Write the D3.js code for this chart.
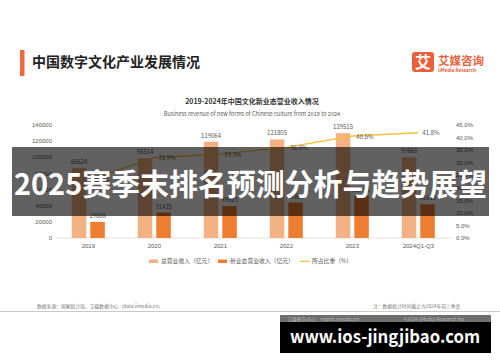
<!DOCTYPE html>
<html>
<head>
<meta charset="utf-8">
<script src="https://cdn.jsdelivr.net/npm/d3@7"></script>
<style>
	body { margin: 0; background: #fff; }
	svg { display: block; font-family: "Noto Sans CJK SC", "Noto Sans", sans-serif; }
</style>
</head>
<body>
<svg id="chart" width="500" height="362"></svg>
<script>
// values
var years = ['2019', '2020', '2021', '2022', '2023', '2024Q1-Q3'];
var totalRevenue = [86624, 98514, 119064, 121805, 129515, 99668];
var newRevenue = [19868, 31425, 39623, 43860, 52395, 41610];
var newShare = [22.9, 31.9, 33.3, 36.0, 40.5, 41.8];
var leftTicks = [0, 20000, 40000, 60000, 80000, 100000, 120000, 140000];
var rightTicks = [0, 5, 10, 15, 20, 25, 30, 35, 40, 45];
var legendNames = ['总营业收入（亿元）', '新业态营业收入（亿元）', '所占比重（%）'];

var colTotal = '#F4B183', colNew = '#ED7D31', colLine = '#F5C13C';
var textGrey = '#595959';

var svg = d3.select('#chart');

// page header
svg.append('rect').attr('x', 20).attr('y', 50).attr('width', 4.5).attr('height', 26).attr('fill', '#EE6A3C');
svg.append('text').attr('x', 32).attr('y', 66.5)
	.attr('font-size', 14).attr('font-weight', 700).attr('fill', '#222')
	.text('中国数字文化产业发展情况');

// logo
svg.append('rect').attr('x', 412).attr('y', 52).attr('width', 22).attr('height', 20).attr('rx', 3)
	.attr('fill', '#E9603A');
svg.append('text').attr('x', 423).attr('y', 67.5).attr('text-anchor', 'middle')
	.attr('font-size', 16).attr('font-weight', 700).attr('fill', '#fff').text('艾');
svg.append('text').attr('x', 438).attr('y', 65)
	.attr('font-size', 11.5).attr('font-weight', 700).attr('fill', '#E9603A').text('艾媒咨询');
svg.append('text').attr('x', 438).attr('y', 71.5)
	.attr('font-size', 4.6).attr('font-weight', 700).attr('fill', '#E9603A').text('iiMedia Research');

// chart titles
svg.append('text').attr('x', 252).attr('y', 104).attr('text-anchor', 'middle')
	.attr('font-size', 7).attr('font-weight', 700).attr('fill', '#333')
	.text('2019-2024年中国文化新业态营业收入情况');
svg.append('text').attr('x', 252).attr('y', 116).attr('text-anchor', 'middle')
	.attr('font-size', 5.6).attr('fill', textGrey)
	.text('Business revenue of new forms of Chinese culture from 2019 to 2024');

// scales
var x = d3.scaleBand().domain(years).range([55.3, 451.3]);
var yL = d3.scaleLinear().domain([0, 140000]).range([238, 124.7]);
var yR = d3.scaleLinear().domain([0, 45]).range([238, 124.7]);
var cx = d => x(d) + x.bandwidth() / 2;

var leftAxis = svg.append('g').attr('transform', 'translate(52,0)')
	.call(d3.axisLeft(yL).tickValues(leftTicks).tickSize(0).tickPadding(0).tickFormat(d3.format('d')));
var rightAxis = svg.append('g').attr('transform', 'translate(456,0)')
	.call(d3.axisRight(yR).tickValues(rightTicks).tickSize(0).tickPadding(0).tickFormat(d => d.toFixed(1) + '%'));
var bottomAxis = svg.append('g').attr('transform', 'translate(0,238)')
	.call(d3.axisBottom(x).tickSize(0).tickPadding(6));
[leftAxis, rightAxis, bottomAxis].forEach(function(g){
	g.select('.domain').remove();
	g.selectAll('text').attr('font-size', 6).attr('fill', textGrey).attr('font-family', null);
});
svg.append('line').attr('x1', 55.3).attr('x2', 451.3).attr('y1', 238).attr('y2', 238)
	.attr('stroke', '#D9D9D9').attr('stroke-width', 0.8);

// bars
var barW = 14.5, gap = 2;
var rows = years.map((d, i) => ({year: d, total: totalRevenue[i], nw: newRevenue[i], share: newShare[i]}));
svg.selectAll('rect.total').data(rows).enter().append('rect')
	.attr('class', 'total')
	.attr('x', d => cx(d.year) - gap - barW).attr('width', barW)
	.attr('y', d => yL(d.total)).attr('height', d => yL(0) - yL(d.total))
	.attr('fill', colTotal);
svg.selectAll('rect.new').data(rows).enter().append('rect')
	.attr('class', 'new')
	.attr('x', d => cx(d.year) + gap).attr('width', barW)
	.attr('y', d => yL(d.nw)).attr('height', d => yL(0) - yL(d.nw))
	.attr('fill', colNew);
svg.selectAll('text.totalLbl').data(rows).enter().append('text')
	.attr('x', d => cx(d.year) - gap - barW / 2).attr('y', d => yL(d.total) - 4)
	.attr('text-anchor', 'middle').attr('font-size', 6).attr('fill', textGrey)
	.text(d => d.total);
svg.selectAll('text.newLbl').data(rows).enter().append('text')
	.attr('x', d => cx(d.year) + gap + barW / 2).attr('y', d => yL(d.nw) - 4)
	.attr('text-anchor', 'middle').attr('font-size', 6).attr('fill', textGrey)
	.text(d => d.nw);

// share line
var line = d3.line().x(d => cx(d.year)).y(d => yR(d.share));
svg.append('path').datum(rows).attr('d', line)
	.attr('fill', 'none').attr('stroke', colLine).attr('stroke-width', 1.4);
svg.selectAll('text.shareLbl').data(rows).enter().append('text')
	.attr('x', d => cx(d.year) + 4).attr('y', d => yR(d.share) + 2.5)
	.attr('font-size', 6).attr('fill', textGrey)
	.text(d => d.share.toFixed(1) + '%');

// legend
var legend = svg.append('g').attr('font-size', 5.8).attr('fill', textGrey);
var lx = [149, 218, 300];
legend.append('rect').attr('x', lx[0]).attr('y', 259.5).attr('width', 9).attr('height', 3.5).attr('fill', colTotal);
legend.append('rect').attr('x', lx[1]).attr('y', 259.5).attr('width', 9).attr('height', 3.5).attr('fill', colNew);
legend.append('line').attr('x1', lx[2]).attr('x2', lx[2] + 10).attr('y1', 261.3).attr('y2', 261.3)
	.attr('stroke', colLine).attr('stroke-width', 1.2);
legendNames.forEach(function(name, i){
	legend.append('text').attr('x', lx[i] + 12).attr('y', 263.3).text(name);
});

// footer
svg.append('text').attr('x', 37).attr('y', 307.5).attr('font-size', 4.8).attr('fill', '#777')
	.text('数据来源：国家统计局、艾媒数据中心（data.iimedia.cn）');
svg.append('text').attr('x', 373).attr('y', 307.5).attr('font-size', 4.8).attr('fill', '#777')
	.text('注：数据统计时间截止为2024年前三季度');
svg.append('line').attr('x1', 0).attr('x2', 500).attr('y1', 311.5).attr('y2', 311.5)
	.attr('stroke', '#BBB').attr('stroke-width', 0.8);
svg.append('rect').attr('x', 280).attr('y', 315).attr('width', 211).attr('height', 7).attr('fill', '#6E6E6E');
svg.append('text').attr('x', 287).attr('y', 320.5).attr('font-size', 4.8).attr('fill', '#BBB')
	.text('艾媒报告中心：report.iimedia.cn');
svg.append('text').attr('x', 403).attr('y', 320.5).attr('font-size', 4.8).attr('fill', '#BBB')
	.text('©2024 iiMedia Research Inc');

// overlay banner
svg.append('rect').attr('x', 12).attr('y', 147).attr('width', 477).attr('height', 69)
	.attr('fill', '#000').attr('fill-opacity', 0.62);
svg.append('text').attr('x', 14).attr('y', 195)
	.attr('font-size', 30).attr('font-weight', 700).attr('fill', '#fff')
	.attr('textLength', 473).attr('lengthAdjust', 'spacingAndGlyphs')
	.text('2025赛季末排名预测分析与趋势展望');

// watermark box
svg.append('rect').attr('x', 280).attr('y', 322).attr('width', 211).attr('height', 31).attr('fill', '#000');
svg.append('text').attr('x', 290).attr('y', 343)
	.attr('font-size', 18).attr('font-weight', 700).attr('fill', '#fff')
	.attr('textLength', 190).attr('lengthAdjust', 'spacingAndGlyphs')
	.text('www.ios-jingjibao.com');
</script>
</body>
</html>
